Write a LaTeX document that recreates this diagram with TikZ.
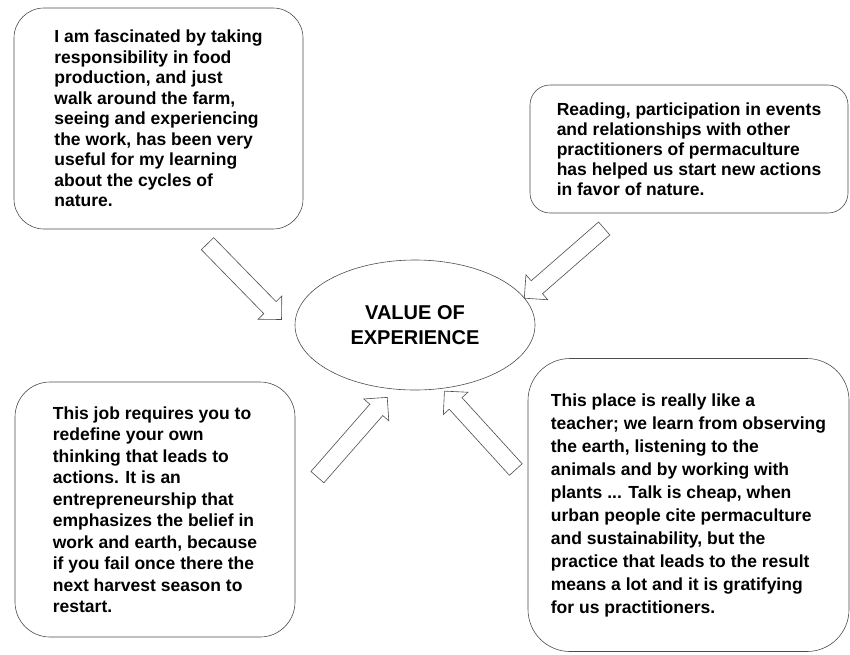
\documentclass[tikz,border=0pt]{standalone}
\usepackage{fontspec}
\setmainfont{Liberation Sans}
\usetikzlibrary{shapes.geometric,shapes.arrows,calc}

\tikzset{
  quote/.style={draw=black!70, line width=0.6pt, fill=white, align=left, inner sep=0pt},
  hollow/.style={draw=black!70, line width=0.6pt, single arrow, single arrow head extend=8pt,
    minimum height=106pt, inner xsep=0pt, inner ysep=8.3pt},
}
\newcommand{\qfont}[1]{\bfseries\fontsize{17.5}{#1}\selectfont}

\begin{document}
\begin{tikzpicture}[x=1pt,y=-1pt]
\useasboundingbox (0,0) rectangle (850,654);
\node[quote, rounded corners=30pt, minimum width=289pt, minimum height=221pt,
  font=\qfont{20.5}] (farm) at (158.5,118.5)
  {I am fascinated by taking\\ responsibility in food\\ production, and just\\
   walk around the farm,\\ seeing and experiencing\\ the work, has been very\\
   useful for my learning\\ about the cycles of\\ nature.};
\node[quote, rounded corners=20pt, minimum width=318pt, minimum height=128pt,
  font=\qfont{20}] (read) at (689,149)
  {Reading, participation in events\\ and relationships with other\\
   practitioners of permaculture\\ has helped us start new actions\\ in favor of nature.};
\node[quote, rounded corners=35pt, minimum width=280pt, minimum height=255pt,
  font=\qfont{21.5}] (job) at (155,509.5)
  {This job requires you to\\ redefine your own\\ thinking that leads to\\ actions. It is an\\
   entrepreneurship that\\ emphasizes the belief in\\ work and earth, because\\
   if you fail once there the\\ next harvest season to\\ restart.};
\node[quote, rounded corners=42pt, minimum width=321pt, minimum height=293pt,
  font=\qfont{23}] (place) at (688.5,505)
  {This place is really like a\\ teacher; we learn from observing\\ the earth, listening to the\\
   animals and by working with\\ plants ... Talk is cheap, when\\ urban people cite permaculture\\
   and sustainability, but the\\ practice that leads to the result\\
   means a lot and it is gratifying\\ for us practitioners.};
\node[draw=black!70, line width=0.6pt, ellipse, minimum width=240pt, minimum height=130pt,
  align=center, inner sep=0pt, font=\bfseries\fontsize{20}{25}\selectfont] (value) at (415,325)
  {VALUE OF\\ EXPERIENCE};

\coordinate (t1) at (204,240); \coordinate (h1) at (279,317);
\coordinate (t2) at (607,226); \coordinate (h2) at (528,295);
\coordinate (t3) at (314,481); \coordinate (h3) at (385,400);
\coordinate (t4) at (518,472); \coordinate (h4) at (448,395);
\node[hollow, rotate=-45.7] (a1) at ($(t1)!.5!(h1)$) {};
\node[hollow, rotate=221.1] (a2) at ($(t2)!.5!(h2)$) {};
\node[hollow, rotate=48.8] (a3) at ($(t3)!.5!(h3)$) {};
\node[hollow, rotate=132.3] (a4) at ($(t4)!.5!(h4)$) {};
\end{tikzpicture}
\end{document}
